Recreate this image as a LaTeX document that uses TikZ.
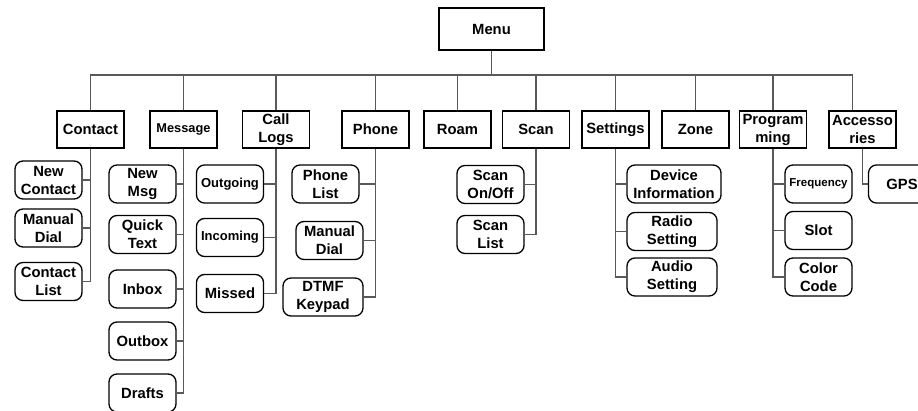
\documentclass[tikz,border=0pt]{standalone}
\usepackage{fontspec}
\setmainfont{Liberation Sans}
\newcommand{\boxfont}{\fontsize{14.8}{18}\selectfont\bfseries}
\tikzset{
  menubox/.style={rectangle, draw, line width=1.3pt, minimum width=67pt, minimum height=37pt, inner sep=1pt, align=center, font=\boxfont},
  itembox/.style={menubox, rounded corners=8pt, minimum height=38pt},
  link/.style={draw=black!65, line width=1.3pt}
}
\begin{document}
\begin{tikzpicture}[x=1pt, y=-1pt]
    \useasboundingbox (0,0) rectangle (918,411);
    \clip (0,0) rectangle (918,411);

    \node[menubox, minimum width=105pt, minimum height=42pt] (menu) at (491.5,29) {Menu};
    \coordinate (bus) at (491.5,75);

    \node[menubox] (contact) at (90.5,129.5) {Contact};
    \node[menubox, font=\fontsize{12.8}{18}\selectfont\bfseries] (message) at (183.5,129.5) {Message};
    \node[menubox] (calllogs) at (276,129.5) {Call\\Logs};
    \node[menubox] (phone) at (375.5,129.5) {Phone};
    \node[menubox] (roam) at (457.5,129.5) {Roam};
    \node[menubox] (scan) at (536,129.5) {Scan};
    \node[menubox] (settings) at (615.5,129.5) {Settings};
    \node[menubox] (zone) at (695.5,129.5) {Zone};
    \node[menubox] (programming) at (773,129.5) {Program\\ming};
    \node[menubox] (accessories) at (862.5,129.5) {Accesso\\ries};

    \node[itembox] (newcontact) at (48.5,180) {New\\Contact};
    \node[itembox] (manualdial) at (48.5,228) {Manual\\Dial};
    \node[itembox] (contactlist) at (48.5,281.5) {Contact\\List};

    \node[itembox] (newmsg) at (142.5,184) {New\\Msg};
    \node[itembox] (quicktext) at (142.5,234.5) {Quick\\Text};
    \node[itembox] (inbox) at (142.5,289) {Inbox};
    \node[itembox] (outbox) at (142.5,341) {Outbox};
    \node[itembox] (drafts) at (142.5,393) {Drafts};

    \node[itembox, font=\fontsize{13}{18}\selectfont\bfseries] (outgoing) at (230,184) {Outgoing};
    \node[itembox, font=\fontsize{13}{18}\selectfont\bfseries] (incoming) at (230,237.5) {Incoming};
    \node[itembox] (missed) at (230,293.5) {Missed};

    \node[itembox] (phonelist) at (325.5,184) {Phone\\List};
    \node[itembox] (phonedial) at (329.5,240.5) {Manual\\Dial};
    \node[itembox, minimum width=80pt] (dtmf) at (323,297) {DTMF\\Keypad};

    \node[itembox] (scanonoff) at (490.5,184.5) {Scan\\On/Off};
    \node[itembox] (scanlist) at (490.5,234.5) {Scan\\List};

    \node[itembox, minimum width=94pt] (deviceinfo) at (674,184) {Device\\Information};
    \node[itembox, minimum width=90pt] (radiosetting) at (672,231.5) {Radio\\Setting};
    \node[itembox, minimum width=90pt] (audiosetting) at (672,277) {Audio\\Setting};

    \node[itembox, font=\fontsize{11.5}{18}\selectfont\bfseries] (frequency) at (818.5,184) {Frequency};
    \node[itembox] (slot) at (818.5,230.5) {Slot};
    \node[itembox] (colorcode) at (818.5,277) {Color\\Code};

    \node[itembox] (gps) at (902,184) {GPS};

    \draw[link] (menu.south) -- (bus);
    \draw[link] (bus) -| (contact.north);
    \draw[link] (bus) -| (message.north);
    \draw[link] (bus) -| (calllogs.north);
    \draw[link] (bus) -| (phone.north);
    \draw[link] (bus) -| (roam.north);
    \draw[link] (bus) -| (scan.north);
    \draw[link] (bus) -| (settings.north);
    \draw[link] (bus) -| (zone.north);
    \draw[link] (bus) -| (programming.north);
    \draw[link] (bus) -| ([xshift=-10pt]accessories.north);

    \draw[link] (contact.south) |- (newcontact.east);
    \draw[link] (contact.south) |- (manualdial.east);
    \draw[link] (contact.south) |- (contactlist.east);

    \draw[link] (message.south) |- (newmsg.east);
    \draw[link] (message.south) |- (quicktext.east);
    \draw[link] (message.south) |- (inbox.east);
    \draw[link] (message.south) |- (outbox.east);
    \draw[link] (message.south) |- (drafts.east);

    \draw[link] (calllogs.south) |- (outgoing.east);
    \draw[link] (calllogs.south) |- (incoming.east);
    \draw[link] (calllogs.south) |- (missed.east);

    \draw[link] (phone.south) |- (phonelist.east);
    \draw[link] (phone.south) |- (phonedial.east);
    \draw[link] (phone.south) |- (dtmf.east);

    \draw[link] (scan.south) |- (scanonoff.east);
    \draw[link] (scan.south) |- (scanlist.east);

    \draw[link] (settings.south) |- (deviceinfo.west);
    \draw[link] (settings.south) |- (radiosetting.west);
    \draw[link] (settings.south) |- (audiosetting.west);

    \draw[link] (programming.south) |- (frequency.west);
    \draw[link] (programming.south) |- (slot.west);
    \draw[link] (programming.south) |- (colorcode.west);

    \draw[link] (accessories.south) |- (gps.west);

\end{tikzpicture}
\end{document}
